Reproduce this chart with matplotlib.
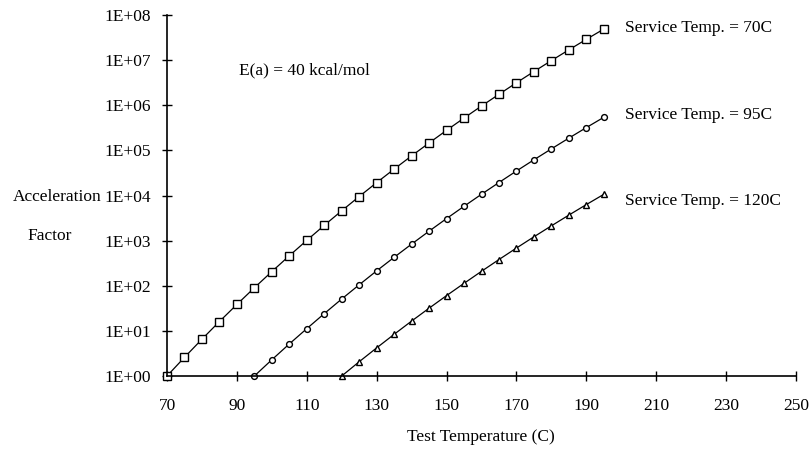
import matplotlib
matplotlib.use("Agg")
import matplotlib.pyplot as plt
from matplotlib.ticker import FixedLocator

plt.rcParams['font.family'] = ['Liberation Serif', 'DejaVu Serif']

temps_70 = [70, 75, 80, 85, 90, 95, 100, 105, 110, 115, 120, 125, 130, 135,
            140, 145, 150, 155, 160, 165, 170, 175, 180, 185, 190, 195]
af_70 = [1, 2.59, 6.54, 16.1, 38.5, 90.2, 206, 462, 1013, 2180, 4590, 9500,
         19300, 38500, 75600, 1.46e5, 2.78e5, 5.21e5, 9.62e5, 1.75e6, 3.15e6,
         5.58e6, 9.77e6, 1.69e7, 2.89e7, 4.88e7]

temps_95 = [95, 100, 105, 110, 115, 120, 125, 130, 135, 140, 145, 150, 155,
            160, 165, 170, 175, 180, 185, 190, 195]
af_95 = [1, 2.29, 5.13, 11.2, 24.1, 50.9, 105, 214, 427, 838, 1620, 3080,
         5770, 10660, 19400, 34900, 61800, 1.08e5, 1.87e5, 3.20e5, 5.41e5]

temps_120 = [120, 125, 130, 135, 140, 145, 150, 155, 160, 165, 170, 175, 180,
             185, 190, 195]
af_120 = [1, 2.07, 4.20, 8.39, 16.5, 31.8, 60.5, 113, 209, 381, 685, 1215,
          2127, 3680, 6290, 10620]

x_ticks = [70, 90, 110, 130, 150, 170, 190, 210, 230, 250]
y_ticks = [1e0, 1e1, 1e2, 1e3, 1e4, 1e5, 1e6, 1e7, 1e8]
y_tick_labels = ['1E+00', '1E+01', '1E+02', '1E+03', '1E+04', '1E+05',
                 '1E+06', '1E+07', '1E+08']
series_labels = ['Service Temp. = 70C', 'Service Temp. = 95C',
                 'Service Temp. = 120C']

W, H = 810, 449
FS = 12.5
fig = plt.figure(figsize=(W / 100, H / 100), dpi=100)
L, R, T, B = 167, 796, 15, 376
ax = fig.add_axes([L / W, 1 - B / H, (R - L) / W, (B - T) / H])

lkw = dict(color='black', lw=0.9, mfc='white', mec='black', mew=1.0, clip_on=False)
ax.plot(temps_70, af_70, marker='s', ms=5.5, **lkw)
ax.plot(temps_95, af_95, marker='o', ms=4.2, **lkw)
ax.plot(temps_120, af_120, marker='^', ms=5.0, **lkw)

ax.set_yscale('log')
ax.set_xlim(70, 250)
ax.set_ylim(1, 1e8)
ax.xaxis.set_major_locator(FixedLocator(x_ticks))
ax.yaxis.set_major_locator(FixedLocator(y_ticks))
ax.yaxis.set_minor_locator(FixedLocator([]))
ax.set_yticklabels(y_tick_labels)
ax.set_xticklabels([str(t) for t in x_ticks])

for s in ['top', 'right']:
    ax.spines[s].set_visible(False)
for s in ['left', 'bottom']:
    ax.spines[s].set_linewidth(1.2)
ax.tick_params(axis='both', direction='inout', length=7, width=1.0,
               labelsize=FS)
ax.tick_params(axis='y', pad=8)
ax.tick_params(axis='x', pad=12)

def fig_text(x, y, s, **kw):
    fig.text(x / W, 1 - y / H, s, fontsize=FS, va='center', **kw)

fig_text(57, 197, 'Acceleration', ha='center')
fig_text(50, 236, 'Factor', ha='center')
fig_text(481, 437, 'Test Temperature (C)', ha='center')
fig_text(239, 70, 'E(a) = 40 kcal/mol', ha='left')
fig_text(625, 28, series_labels[0], ha='left')
fig_text(625, 115, series_labels[1], ha='left')
fig_text(625, 201, series_labels[2], ha='left')

fig.savefig('out.png', dpi=100)
